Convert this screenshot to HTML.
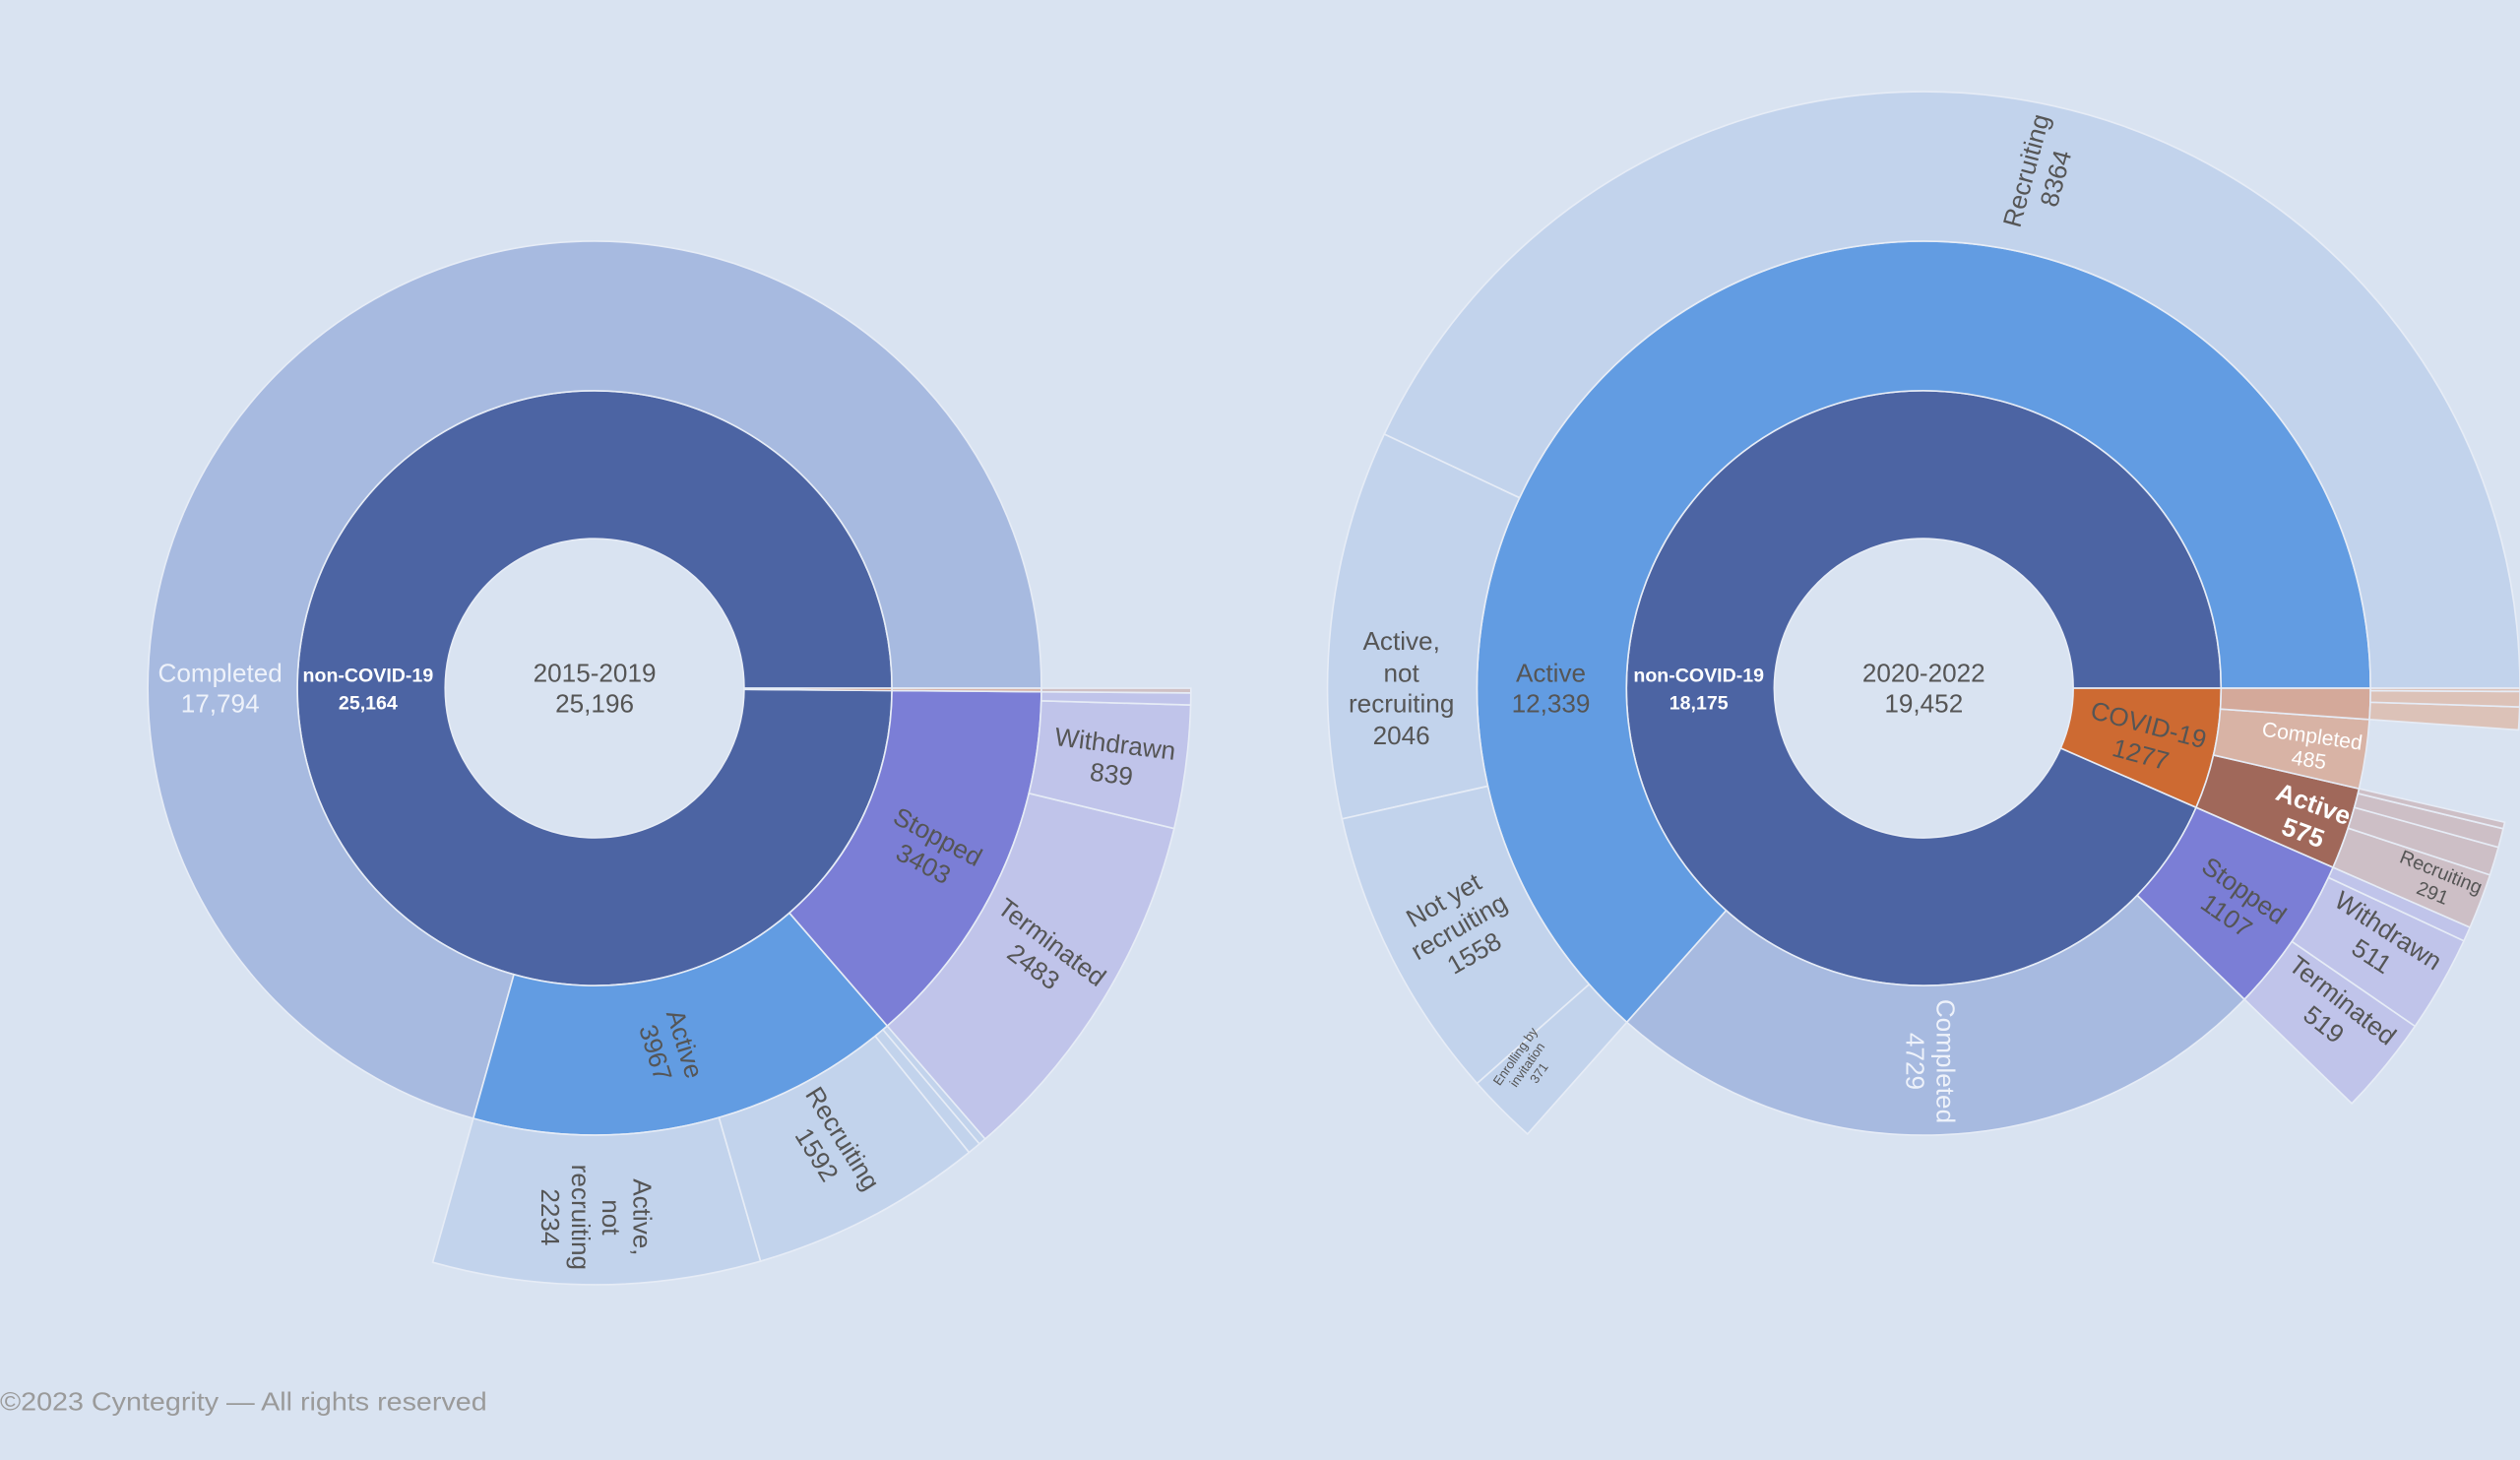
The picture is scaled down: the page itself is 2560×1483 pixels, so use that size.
<!DOCTYPE html>
<html><head><meta charset="utf-8"><style>
html,body{margin:0;padding:0;background:#d9e3f1;}
svg{display:block;}
text{font-family:"Liberation Sans",sans-serif;}
</style></head><body>
<svg id="s" width="2560" height="1483" viewBox="0 0 1568 908" preserveAspectRatio="none" xmlns="http://www.w3.org/2000/svg">
<rect width="1568" height="908" fill="#d9e3f1"/>
<g id="arcs"></g>
<g id="labels" fill="#555" font-size="16" text-anchor="middle">
<!-- Left -->
<text x="370" y="424">2015-2019</text><text x="370" y="443">25,196</text>
<g fill="#fff" font-size="12" font-weight="bold"><text x="229" y="424">non-COVID-19</text><text x="229" y="441">25,164</text></g>
<g fill="#eef2fa"><text x="137" y="424">Completed</text><text x="137" y="443">17,794</text></g>
<g transform="translate(417,652) rotate(73)"><text x="0" y="-4">Active</text><text x="0" y="15">3967</text></g>
<g transform="translate(580,527) rotate(28)"><text x="0" y="-2">Stopped</text><text x="0" y="17">3403</text></g>
<g transform="translate(650,592) rotate(37)"><text x="0" y="-2">Terminated</text><text x="0" y="17">2483</text></g>
<g transform="translate(693,470) rotate(7)"><text x="0" y="-2">Withdrawn</text><text x="0" y="17">839</text></g>
<g transform="translate(518,712) rotate(58)"><text x="0" y="-2">Recruiting</text><text x="0" y="17">1592</text></g>
<g transform="translate(370,757) rotate(90)"><text x="0" y="-24">Active,</text><text x="0" y="-5">not</text><text x="0" y="14">recruiting</text><text x="0" y="33">2234</text></g>
<!-- Right -->
<text x="1197" y="424">2020-2022</text><text x="1197" y="443">19,452</text>
<g fill="#fff" font-size="12" font-weight="bold"><text x="1057" y="424">non-COVID-19</text><text x="1057" y="441">18,175</text></g>
<text x="965" y="424">Active</text><text x="965" y="443">12,339</text>
<text x="872" y="404">Active,</text><text x="872" y="424">not</text><text x="872" y="443">recruiting</text><text x="872" y="463">2046</text>
<g transform="translate(907,575) rotate(-30)"><text x="0" y="-12">Not yet</text><text x="0" y="7">recruiting</text><text x="0" y="26">1558</text></g>
<g transform="translate(950,662) rotate(-55)" font-size="8"><text x="0" y="-6">Enrolling by</text><text x="0" y="3">invitation</text><text x="0" y="12">371</text></g>
<g transform="translate(1268,108) rotate(-75)"><text x="0" y="-2">Recruiting</text><text x="0" y="17">8364</text></g>
<g transform="translate(1203,660) rotate(90)" fill="#eef2fa"><text x="0" y="-2">Completed</text><text x="0" y="17">4729</text></g>
<g transform="translate(1335,458) rotate(15)"><text x="0" y="-2">COVID-19</text><text x="0" y="17">1277</text></g>
<g transform="translate(1438,463) rotate(8)" fill="#fff" font-size="13"><text x="0" y="-1">Completed</text><text x="0" y="14">485</text></g>
<g transform="translate(1437,507) rotate(20)" fill="#fff" font-size="16" font-weight="bold"><text x="0" y="-2">Active</text><text x="0" y="17">575</text></g>
<g transform="translate(1392,560) rotate(35)"><text x="0" y="-2">Stopped</text><text x="0" y="17">1107</text></g>
<g transform="translate(1482,585) rotate(33)"><text x="0" y="-2">Withdrawn</text><text x="0" y="17">511</text></g>
<g transform="translate(1453,628) rotate(38)"><text x="0" y="-2">Terminated</text><text x="0" y="17">519</text></g>
<g transform="translate(1517,547) rotate(22)" font-size="12"><text x="0" y="-1">Recruiting</text><text x="0" y="13">291</text></g>
<text x="0" y="877" text-anchor="start" fill="#9a9a9a" font-size="16" textLength="303" lengthAdjust="spacingAndGlyphs">©2023 Cyntegrity — All rights reserved</text>
</g>
</svg>
<script>
var g=document.getElementById('arcs');
function P(cx,cy,r,a){a=a*Math.PI/180;return [cx+r*Math.cos(a),cy-r*Math.sin(a)];}
function arc(cx,cy,r0,r1,a0,a1,fill){
 var l=(a1-a0)>180?1:0;
 var p1=P(cx,cy,r1,a0),p2=P(cx,cy,r1,a1),p3=P(cx,cy,r0,a1),p4=P(cx,cy,r0,a0);
 var d='M'+p1+' A'+r1+','+r1+' 0 '+l+' 0 '+p2+' L'+p3+' A'+r0+','+r0+' 0 '+l+' 1 '+p4+'Z';
 var e=document.createElementNS('http://www.w3.org/2000/svg','path');
 e.setAttribute('d',d);e.setAttribute('fill',fill);e.setAttribute('stroke','#e6ecf6');e.setAttribute('stroke-width','1');
 g.appendChild(e);
}
function draw(cx,cy,total,nodes){
 var R=[93,185,278,371];
 function rec(list,lvl,start){
  var a=start;
  list.forEach(function(n){
   var sp=n.v/total*360;
   arc(cx,cy,R[lvl],R[lvl+1],a,a+sp,n.c);
   if(n.k) rec(n.k,lvl+1,a);
   a+=sp;
  });
 }
 rec(nodes,0,0);
}
var L1='#c2d3ec',S3='#c0c4ea';
draw(370,428,25196,[
 {v:25164,c:'#4c64a3',k:[
  {v:17794,c:'#a7bae0'},
  {v:3967,c:'#629ce2',k:[{v:2234,c:L1},{v:1592,c:L1},{v:90,c:L1},{v:51,c:L1}]},
  {v:3403,c:'#7b7ed6',k:[{v:2483,c:S3},{v:839,c:S3},{v:81,c:S3}]}
 ]},
 {v:32,c:'#cd6a32',k:[{v:32,c:'#d8b3a5',k:[{v:32,c:'#cfc0c4'}]}]}
]);
var C3='#cdbfc6';
draw(1197,428,19452,[
 {v:18175,c:'#4c64a3',k:[
  {v:12339,c:'#629ce2',k:[{v:8364,c:L1},{v:2046,c:L1},{v:1558,c:L1},{v:371,c:L1}]},
  {v:4729,c:'#a7bae0'},
  {v:1107,c:'#7b7ed6',k:[{v:519,c:S3},{v:511,c:S3},{v:77,c:S3}]}
 ]},
 {v:1277,c:'#cd6a32',k:[
  {v:575,c:'#a0685a',k:[{v:291,c:C3},{v:150,c:C3},{v:100,c:C3},{v:34,c:C3}]},
  {v:485,c:'#d8b3a5'},
  {v:217,c:'#d4a99a',k:[{v:120,c:'#dcc2b8'},{v:80,c:'#dcc2b8'},{v:17,c:'#dcc2b8'}]}
 ]}
]);
</script>
</body></html>
